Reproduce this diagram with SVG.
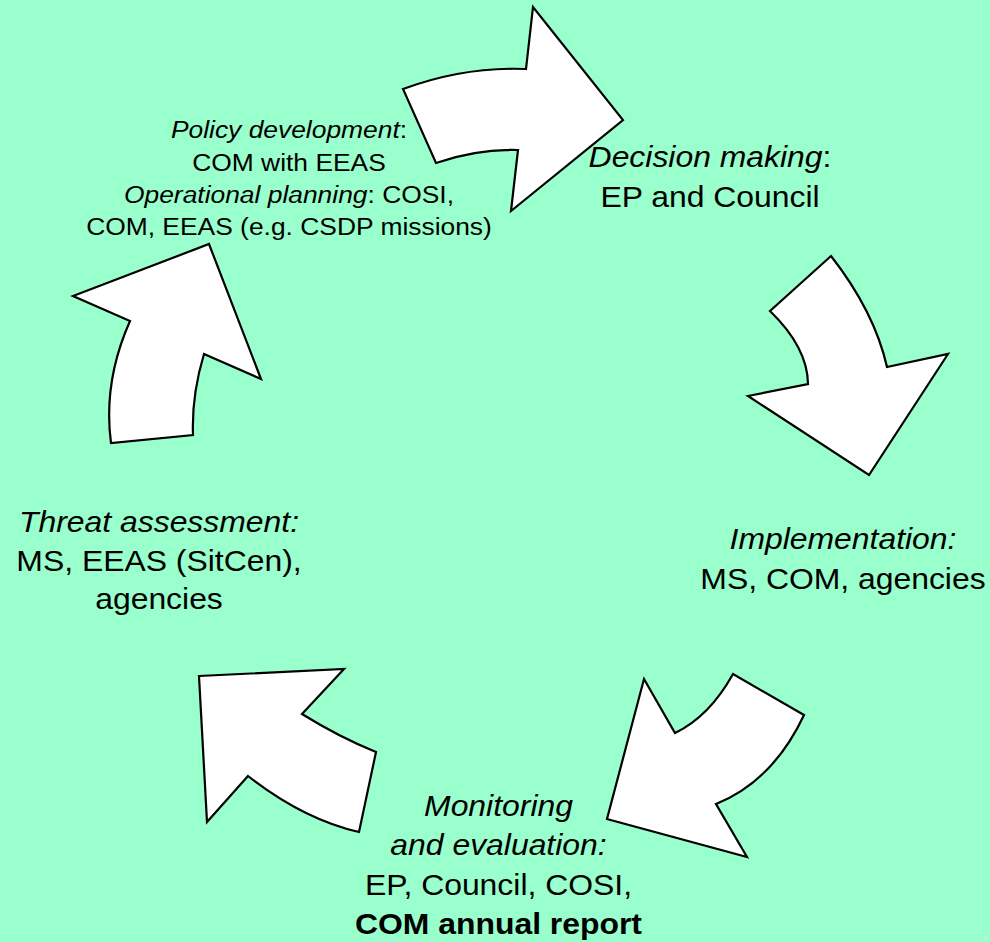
<svg xmlns="http://www.w3.org/2000/svg" width="990" height="942" viewBox="0 0 990 942">
<style>
.bg{fill:#99FFCC}
.arr{fill:#FFFFFF;stroke:#000000;stroke-width:2.2;stroke-linejoin:miter}
text{font-family:"Liberation Sans",Arial,sans-serif;fill:#000;text-anchor:middle}
.big{font-size:29px}
.sm{font-size:24px}
.i{font-style:italic}
.b{font-weight:bold}
</style>
<rect class="bg" x="0" y="0" width="990" height="942"/>
<g id="connectors">
<path id="arrow-top" class="arr" d="M403,89 Q464.5,66.4 526,69 L533,7 L623,120 L511,211 L518,150 Q477,148.9 436,163 Z"/>
<path id="arrow-right" class="arr" d="M831,256 Q874.4,311.5 887,367 L948,354 L869,475 L748,396 L808,384 Q807.6,347.5 770,311 Z"/>
<path id="arrow-bottom-right" class="arr" d="M644,679 L675,733 Q709.4,716.5 733,674 L804,715 Q773.4,780.5 716,804 L747,857 L607,819 Z"/>
<path id="arrow-bottom-left" class="arr" d="M199,676 L344,669 L302,714 Q339,737 376,752 L359,832 Q303.5,819.4 248,776 L207,822 Z"/>
<path id="arrow-left" class="arr" d="M209,244 L261,379 L204,354 Q191.5,395.5 193,435 L111,443 Q102.9,382 130,321 L73,296 Z"/>
</g>
<g id="policy">
<g transform="translate(289,0) scale(1.1,1)">
<text class="sm" x="0" y="138"><tspan class="i">Policy development</tspan>:</text>
<text class="sm" x="0" y="171">COM with EEAS</text>
<text class="sm" x="0" y="203"><tspan class="i">Operational planning</tspan>: COSI,</text>
<text class="sm" x="0" y="235">COM, EEAS (e.g. CSDP missions)</text>
</g>
</g>
<g id="decision">
<g transform="translate(710,0) scale(1.1,1)">
<text class="big" x="0" y="167"><tspan class="i">Decision making</tspan>:</text>
<text class="big" x="0" y="207">EP and Council</text>
</g>
</g>
<g id="implementation">
<g transform="translate(843,0) scale(1.1,1)">
<text class="big i" x="0" y="549">Implementation:</text>
<text class="big" x="0" y="589">MS, COM, agencies</text>
</g>
</g>
<g id="monitoring">
<g transform="translate(498.5,0) scale(1.1,1)">
<text class="big i" x="0" y="816">Monitoring</text>
<text class="big i" x="0" y="855">and evaluation:</text>
<text class="big" x="0" y="895">EP, Council, COSI,</text>
<text class="big b" x="0" y="934">COM annual report</text>
</g>
</g>
<g id="threat">
<g transform="translate(159,0) scale(1.1,1)">
<text class="big i" x="0" y="532">Threat assessment:</text>
<text class="big" x="0" y="571">MS, EEAS (SitCen),</text>
<text class="big" x="0" y="609">agencies</text>
</g>
</g>
</svg>
